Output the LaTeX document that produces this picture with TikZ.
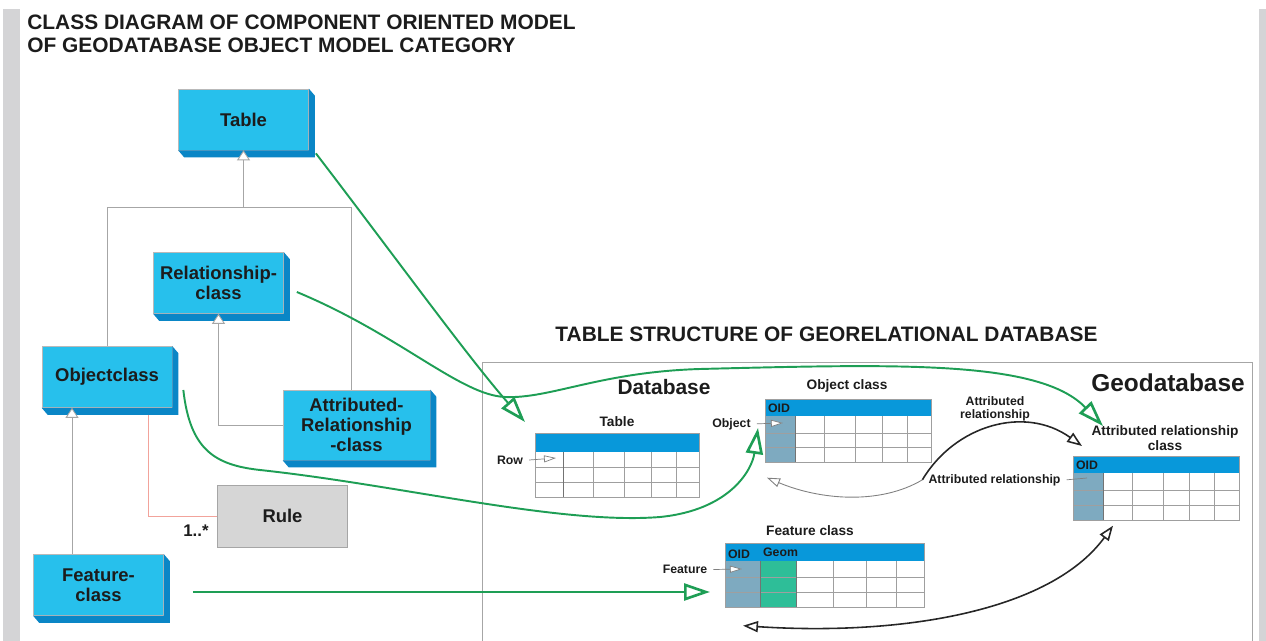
\documentclass[tikz,border=0pt]{standalone}
\usepackage{fontspec}
\setmainfont{Liberation Sans}
\usetikzlibrary{arrows.meta}

\definecolor{clsface}{HTML}{27C0EC}
\definecolor{clsdark}{HTML}{0A86C6}
\definecolor{headblue}{HTML}{0898DA}
\definecolor{oidblue}{HTML}{7EAAC0}
\definecolor{geomgreen}{HTML}{2EBE98}
\definecolor{mapgreen}{HTML}{1E9E55}
\definecolor{rulegray}{HTML}{D6D6D6}
\definecolor{bargray}{HTML}{D4D4D6}
\definecolor{linegray}{HTML}{A6A6A6}
\definecolor{assocred}{HTML}{F2A39B}
\definecolor{inkdark}{HTML}{1C1C1C}

\begin{document}
\begin{tikzpicture}[x=0.02cm, y=-0.02cm,
  cls/.style = {draw=gray!55, fill=clsface, align=center, inner sep=0pt,
        minimum width=2.6cm, minimum height=1.22cm, text=inkdark,
        font=\fontsize{10.5}{11.5}\selectfont\bfseries},
  rulebox/.style = {draw=gray!70, fill=rulegray, inner sep=0pt,
        minimum width=2.6cm, minimum height=1.24cm, text=inkdark,
        font=\fontsize{10.5}{11.5}\selectfont\bfseries},
  grid/.style = {fill=white, inner sep=0pt, anchor=north west},
  cell/.style = {draw=gray!75, line width=0.4pt},
  genline/.style = {draw=linegray, line width=0.5pt},
  gen/.style = {genline, -{Triangle[open, length=2mm, width=2.6mm, fill=white]}},
  assoc/.style = {draw=assocred, line width=0.5pt},
  map/.style = {draw=mapgreen, line width=1.1pt,
        -{Triangle[open, length=5.2mm, width=3.4mm, fill=white, line width=1.5pt]}},
  ptr/.style = {draw=gray, line width=0.4pt,
        -{Triangle[open, length=2.4mm, width=1.4mm, fill=white]}},
  link/.style = {draw=black!85, line width=0.9pt,
        -{Triangle[open, length=3mm, width=2.2mm, fill=white]}},
  lbl/.style = {font=\fontsize{7}{7.4}\selectfont\bfseries, text=inkdark, align=center},
  ttl/.style = {font=\fontsize{7.8}{8.5}\selectfont\bfseries, text=inkdark, align=center},
  oid/.style = {font=\fontsize{7}{7}\selectfont\bfseries, text=inkdark, inner sep=1pt, anchor=west},
  big/.style = {font=\fontsize{11.9}{13.1}\selectfont\bfseries, text=inkdark}]
 \useasboundingbox (0,0) rectangle (1266,641);
 \fill[bargray] (3,9) rectangle (20,641);
 \fill[bargray] (1259,9) rectangle (1266,641);

 \node[big, anchor=north west, inner sep=0pt, align=left] (title) at (27,15)
      {CLASS DIAGRAM OF COMPONENT ORIENTED MODEL\\
       OF GEODATABASE OBJECT MODEL CATEGORY};

 % class diagram
 \node[cls] (tbl)  at (243.5,119.5) {Table};
 \node[cls] (rel)  at (218.5,283)   {Relationship-\\class};
 \node[cls] (obj)  at (107,377)     {Objectclass};
 \node[cls, minimum width=2.94cm, minimum height=1.4cm] (arel) at (356.5,425)
      {Attributed-\\Relationship\\-class};
 \node[cls] (feat) at (98.5,585)    {Feature-\\class};
 \node[rulebox] (rule) at (282.5,516) {Rule};
 % extruded sides of the class boxes
 \foreach \n in {tbl,rel,obj,arel,feat}
   \fill[clsdark] (\n.north east) -- ([shift={(6,7)}]\n.north east)
      -- ([shift={(6,7)}]\n.south east) -- ([shift={(6,7)}]\n.south west)
      -- (\n.south west) -- (\n.south east) -- cycle;

 \coordinate (jL) at (107,207);
 \coordinate (jR) at (351,207);
 \draw[genline] (obj.north) -- (jL) -- (jR) -- (jR |- arel.north);
 \draw[gen] (tbl.south |- jR) -- (tbl.south);
 \draw[gen] (arel.west) -| (rel.south);
 \coordinate (fx) at (72,0);
 \draw[gen] (fx |- feat.north) -- (fx |- obj.south);
 \draw[assoc] ([shift={(41,7)}]obj.south) |- (rule.west);
 \node[font=\fontsize{9.6}{10}\selectfont\bfseries, text=inkdark] (mult) at (196,531) {1..*};

 % table structure
 \node[big] (tshead) at (826.5,334) {TABLE STRUCTURE OF GEORELATIONAL DATABASE};
 \draw[draw=gray!70, line width=0.5pt] (482,641) |- (1252,362) -- (1252,641);
 \node[big] (dbname) at (664,387) {Database};
 \node[font=\fontsize{13.9}{15}\selectfont\bfseries, text=inkdark] (geoname) at (1168,382.5) {Geodatabase};

 % table
 \node[ttl] (dbtitle) at (617,421.5) {Table};
 \node[grid, minimum width=3.28cm, minimum height=1.28cm] (dbtab) at (535,433) {};
 \fill[headblue] (535,433) rectangle (699,452);
 \foreach \y in {467,482} \draw[cell] (535,\y) -- (699,\y);
 \foreach \x in {593,624,651,676} \draw[cell] (\x,452) -- (\x,497);
 \draw[cell, draw=gray!90!black] (563,452) -- (563,497);
 \draw[cell] (dbtab.north west) rectangle (dbtab.south east);
 \node[lbl] (rowlbl) at (510,460) {Row};
 \draw[ptr] (rowlbl.east) -- ([shift={(21,25)}]dbtab.north west);

 % object class
 \node[ttl, anchor=base] (objtitle) at (847,389) {Object class};
 \node[grid, minimum width=3.32cm, minimum height=1.26cm] (objtab) at (765,399) {};
 \fill[headblue] (765,399) rectangle (931,416);
 \fill[oidblue] (765,416) rectangle (795,462);
 \foreach \y in {433,447} \draw[cell] (765,\y) -- (931,\y);
 \foreach \x in {824,855,882,907} \draw[cell] (\x,416) -- (\x,462);
 \draw[cell, draw=gray!90!black] (795,416) -- (795,462);
 \draw[cell] (objtab.north west) rectangle (objtab.south east);
 \node[oid] (objoid) at (766,408) {OID};
 \node[lbl, anchor=base] (objlbl) at (731.5,427) {Object};
 \draw[ptr] (objlbl.east) -- ([shift={(18,24)}]objtab.north west);

 % attributed relationship class
 \node[ttl] (arctitle) at (1165,438) {Attributed relationship\\class};
 \node[grid, minimum width=3.32cm, minimum height=1.28cm] (arctab) at (1073,456) {};
 \fill[headblue] (1073,456) rectangle (1239,473);
 \fill[oidblue] (1073,473) rectangle (1103,520);
 \foreach \y in {490,505} \draw[cell] (1073,\y) -- (1239,\y);
 \foreach \x in {1132,1163,1189,1214} \draw[cell] (\x,473) -- (\x,520);
 \draw[cell, draw=gray!90!black] (1103,473) -- (1103,520);
 \draw[cell] (arctab.north west) rectangle (arctab.south east);
 \node[oid] (arcoid) at (1074,465) {OID};
 \node[lbl, anchor=base] (arlbl) at (994.5,483) {Attributed relationship};
 \draw[draw=gray, line width=0.4pt] (arlbl.east) -- ([shift={(14,22)}]arctab.north west);
 \node[lbl] (arrel) at (995,409) {Attributed\\relationship};

 % feature class
 \node[ttl, anchor=base] (feattitle) at (810,535) {Feature class};
 \node[grid, minimum width=3.98cm, minimum height=1.28cm] (feattab) at (725,543) {};
 \fill[headblue] (725,543) rectangle (924,561);
 \fill[oidblue] (725,561) rectangle (760,607);
 \fill[geomgreen] (760,561) rectangle (796,607);
 \foreach \y in {577,592} \draw[cell] (725,\y) -- (924,\y);
 \foreach \x in {833,866,896} \draw[cell] (\x,561) -- (\x,607);
 \draw[cell, draw=gray!90!black] (760,561) -- (760,607) (796,561) -- (796,607);
 \draw[cell] (feattab.north west) rectangle (feattab.south east);
 \node[oid] (featoid) at (726,554) {OID};
 \node[oid] (geom) at (761,552) {Geom};
 \node[lbl] (featlbl) at (685,569.5) {Feature};
 \draw[ptr] (featlbl.east) -- ([shift={(17,26)}]feattab.north west);

 % relations between tables
 \draw[link] (arlbl.west) .. controls (955,425) and (1025,405)
       .. ([shift={(9,-10)}]arctab.north west);
 \draw[ptr, line width=0.5pt, -{Triangle[open, length=2.6mm, width=1.8mm, fill=white]}]
       (arlbl.west) .. controls (880,505) and (820,500)
       .. ([shift={(2,15)}]objtab.south west);
 \draw[link, {Triangle[open, length=3mm, width=2.2mm, fill=white]}-{Triangle[open, length=3mm, width=2.2mm, fill=white]}]
       ([shift={(18,18)}]feattab.south west) .. controls (900,636) and (1050,612)
       .. ([shift={(40,5)}]arctab.south west);

 % mapping of classes onto tables
 \draw[map] ([shift={(7,3)}]tbl.south east) .. controls (390,250) and (470,360)
       .. ([shift={(-10,-11)}]dbtab.north west);
 \draw[map] ([shift={(13,9)}]rel.east) .. controls (400,335) and (460,395)
       .. (505,397) .. controls (550,399) and (600,372)
       .. (700,369) .. controls (900,364) and (1040,360)
       .. ([shift={(30,-30)}]arctab.north west);
 \draw[map] ([shift={(11,13)}]obj.east) .. controls (190,450) and (215,465)
       .. (260,470) .. controls (400,485) and (560,525)
       .. (660,517) .. controls (730,510) and (752,470)
       .. ([shift={(-7,29)}]objtab.north west);
 \draw[map] ([shift={(29,7)}]feat.east) -- ([shift={(-15,49)}]feattab.north west);
\end{tikzpicture}
\end{document}
